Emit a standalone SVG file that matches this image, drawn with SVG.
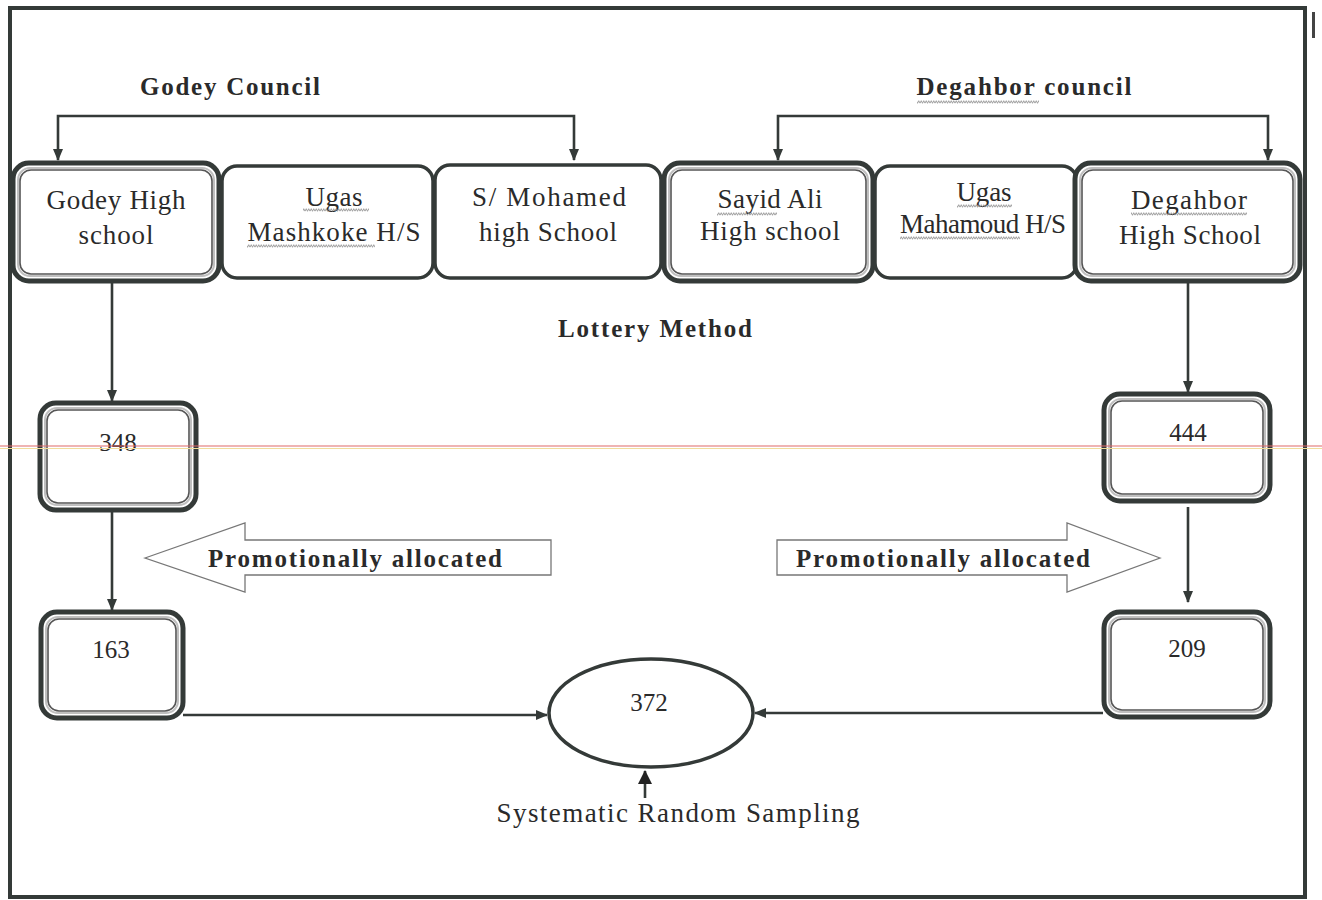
<svg xmlns="http://www.w3.org/2000/svg" width="1322" height="900" viewBox="0 0 1322 900">
<style>
.frame{fill:none;stroke:#343a38;stroke-width:4}
.box{fill:#fff;stroke:#343a38;stroke-width:3.5}
.outer{fill:#fff;stroke:#343a38;stroke-width:5}
.inner{fill:none;stroke:#555;stroke-width:1.6}
.gap{fill:none;stroke:#bfbfbf;stroke-width:2}
.t{font-family:"Liberation Serif",serif;font-size:27px;fill:#2a2a2a;text-anchor:middle}
.b{font-weight:bold;font-size:25px}
.n{font-size:25px}
.conn{fill:none;stroke:#343a38;stroke-width:2.6}
.fat{fill:#fff;stroke:#777;stroke-width:1.3}
.sq{fill:url(#wave)}
</style>
<defs>
<marker id="ah" markerUnits="userSpaceOnUse" markerWidth="12" markerHeight="12" viewBox="0 0 12 12" refX="11" refY="6" orient="auto-start-reverse">
<path d="M0,1 L12,6 L0,11 Z" fill="#343a38"/>
</marker>
<marker id="ahb" markerUnits="userSpaceOnUse" markerWidth="14" markerHeight="14" viewBox="0 0 14 14" refX="13" refY="7" orient="auto">
<path d="M0,0 L14,7 L0,14 Z" fill="#222"/>
</marker>
<pattern id="wave" width="5" height="4" patternUnits="userSpaceOnUse">
<path d="M0,3.3 L1.25,0.7 L2.5,3.3 L3.75,0.7 L5,3.3" fill="none" stroke="#8a8a8a" stroke-width="0.8"/>
</pattern>
</defs>
<rect width="1322" height="900" fill="#fff"/>
<rect class="frame" x="10" y="8" width="1295" height="889"/>
<rect x="1312" y="12" width="3" height="26" fill="#444"/>

<g id="headers">
<text class="t b" x="230" y="95" textLength="180">Godey Council</text>
<text class="t b" x="1024" y="95" textLength="215">Degahbor council</text>
<text class="t b" x="655" y="337" textLength="194">Lottery Method</text>
<rect class="sq" x="917" y="100" width="122" height="4"/>
</g>

<g id="connectors">
<path class="conn" d="M58,160 V116 H574 V160" marker-start="url(#ah)" marker-end="url(#ah)"/>
<path class="conn" d="M778,160 V116 H1268 V160" marker-start="url(#ah)" marker-end="url(#ah)"/>
<path class="conn" d="M112,283 V401" marker-end="url(#ah)"/>
<path class="conn" d="M112,511 V610" marker-end="url(#ah)"/>
<path class="conn" d="M1188,283 V392" marker-end="url(#ah)"/>
<path class="conn" d="M1188,507 V602" marker-end="url(#ah)"/>
<path class="conn" d="M183,715 H547" marker-end="url(#ah)"/>
<path class="conn" d="M1103,713 H755" marker-end="url(#ah)"/>
<path class="conn" d="M645,798 V771" stroke-width="4" marker-end="url(#ahb)"/>
</g>

<g id="godey-high">
<rect class="outer" x="13" y="163" width="206" height="118" rx="16"/>
<rect class="gap" x="18" y="168" width="196" height="108" rx="12"/>
<rect class="inner" x="20" y="170" width="192" height="104" rx="11"/>
<text class="t" x="116" y="209" textLength="139">Godey High</text>
<text class="t" x="116" y="244" textLength="75">school</text>
</g>
<g id="ugas-mashkoke">
<rect class="box" x="222" y="166" width="211" height="112" rx="15"/>
<text class="t" x="334" y="206" textLength="57">Ugas</text>
<text class="t" x="334" y="241" textLength="173">Mashkoke H/S</text>
<rect class="sq" x="303" y="208" width="66" height="4"/>
<rect class="sq" x="247" y="244" width="128" height="4"/>
</g>
<g id="s-mohamed">
<rect class="box" x="435" y="165" width="226" height="113" rx="15"/>
<text class="t" x="549" y="206" textLength="154">S/ Mohamed</text>
<text class="t" x="548" y="241" textLength="138">high School</text>
</g>
<g id="sayid-ali">
<rect class="outer" x="664" y="163" width="209" height="118" rx="16"/>
<rect class="gap" x="669" y="168" width="199" height="108" rx="12"/>
<rect class="inner" x="671" y="170" width="195" height="104" rx="11"/>
<text class="t" x="770" y="208" textLength="105">Sayid Ali</text>
<text class="t" x="770" y="240" textLength="140">High school</text>
<rect class="sq" x="717" y="212" width="60" height="4"/>
</g>
<g id="ugas-mahamoud">
<rect class="box" x="875" y="166" width="202" height="112" rx="15"/>
<text class="t" x="984" y="201" textLength="55">Ugas</text>
<text class="t" x="983" y="233" textLength="166">Mahamoud H/S</text>
<rect class="sq" x="957" y="204" width="55" height="4"/>
<rect class="sq" x="900" y="236" width="120" height="4"/>
</g>
<g id="degahbor-high">
<rect class="outer" x="1075" y="163" width="225" height="118" rx="16"/>
<rect class="gap" x="1080" y="168" width="215" height="108" rx="12"/>
<rect class="inner" x="1082" y="170" width="211" height="104" rx="11"/>
<text class="t" x="1189" y="209" textLength="116">Degahbor</text>
<text class="t" x="1190" y="244" textLength="142">High School</text>
<rect class="sq" x="1131" y="212" width="116" height="4"/>
</g>

<g id="n348">
<rect class="outer" x="40" y="403" width="156" height="107" rx="16"/>
<rect class="gap" x="45" y="408" width="146" height="97" rx="12"/>
<rect class="inner" x="47" y="410" width="142" height="93" rx="11"/>
<text class="t n" x="118" y="451">348</text>
</g>
<g id="n163">
<rect class="outer" x="41" y="612" width="142" height="106" rx="16"/>
<rect class="gap" x="46" y="617" width="132" height="96" rx="12"/>
<rect class="inner" x="48" y="619" width="128" height="92" rx="11"/>
<text class="t n" x="111" y="658">163</text>
</g>
<g id="n444">
<rect class="outer" x="1104" y="394" width="166" height="107" rx="16"/>
<rect class="gap" x="1109" y="399" width="156" height="97" rx="12"/>
<rect class="inner" x="1111" y="401" width="152" height="93" rx="11"/>
<text class="t n" x="1188" y="441">444</text>
</g>
<g id="n209">
<rect class="outer" x="1104" y="612" width="166" height="105" rx="16"/>
<rect class="gap" x="1109" y="617" width="156" height="95" rx="12"/>
<rect class="inner" x="1111" y="619" width="152" height="91" rx="11"/>
<text class="t n" x="1187" y="657">209</text>
</g>

<g id="arrow-left">
<path class="fat" d="M145,558 L245,523 L245,540 L551,540 L551,575 L245,575 L245,592 Z"/>
<text class="t b" x="355" y="567" textLength="294">Promotionally allocated</text>
</g>
<g id="arrow-right">
<path class="fat" d="M1160,558 L1067,523 L1067,540 L777,540 L777,575 L1067,575 L1067,592 Z"/>
<text class="t b" x="943" y="567" textLength="294">Promotionally allocated</text>
</g>

<g id="n372">
<ellipse cx="651" cy="713" rx="102" ry="54" fill="#fff" stroke="#343a38" stroke-width="3.5"/>
<text class="t n" x="649" y="711">372</text>
</g>
<g id="sampling">
<text class="t" x="678" y="822" textLength="363">Systematic Random Sampling</text>
</g>

<line x1="0" y1="446" x2="1322" y2="446" stroke="#e06a6a" stroke-width="1.2"/>
<line x1="0" y1="448.5" x2="1322" y2="448.5" stroke="#f0dc9c" stroke-width="1.2"/>
</svg>
